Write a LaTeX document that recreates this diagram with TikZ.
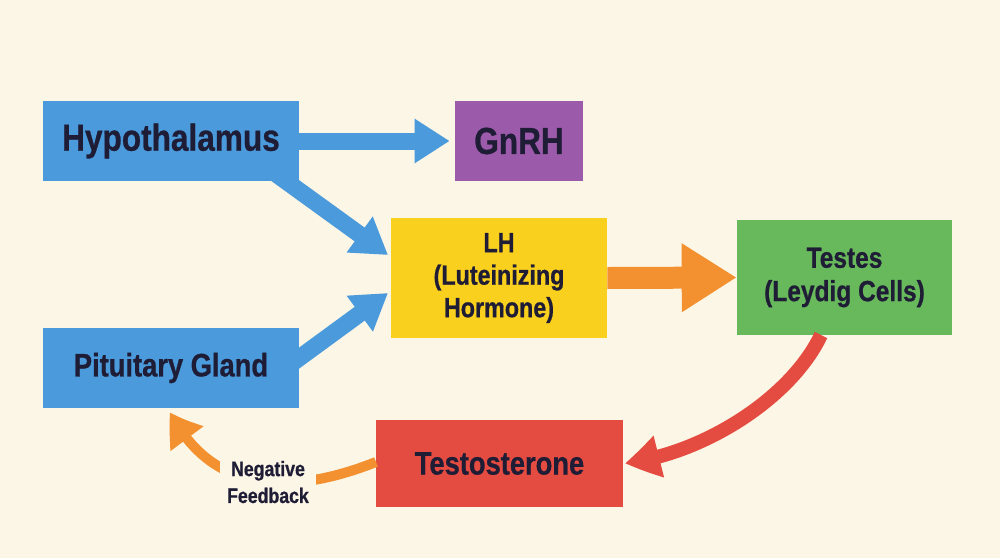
\documentclass[tikz,border=0pt]{standalone}
\usepackage{fontspec}
\setmainfont{Liberation Sans}[FakeStretch=0.84,BoldFeatures={FakeBold=0.7}]
\usetikzlibrary{arrows.meta,bending}
\definecolor{bg}{HTML}{FCF6E6}
\definecolor{cblue}{HTML}{4A9ADC}
\definecolor{cpurple}{HTML}{9C5BAA}
\definecolor{cyellow}{HTML}{FAD01E}
\definecolor{cgreen}{HTML}{68B85C}
\definecolor{cred}{HTML}{E44C41}
\definecolor{corange}{HTML}{F39130}
\definecolor{ink}{HTML}{1F1C36}
\begin{document}
\begin{tikzpicture}[x=0.02cm,y=-0.02cm,
  box/.style={draw=none,inner sep=0pt,align=center,text=ink},
  bigtext/.style={font=\bfseries\fontsize{21.4}{24}\selectfont},
  boxtext/.style={font=\bfseries\fontsize{18.5}{22}\selectfont},
  midtext/.style={font=\bfseries\fontsize{15.8}{18.5}\selectfont},
  testestext/.style={font=\bfseries\fontsize{16.6}{19}\selectfont},
  smalltext/.style={font=\bfseries\fontsize{12}{15.3}\selectfont},
  bluearrow/.style={draw=cblue,line width=0.34cm,-{Triangle[length=0.7cm,width=0.84cm]}},
  orangearrow/.style={draw=corange,line width=0.44cm,-{Triangle[length=1.1cm,width=1.3cm]}},
  redarrow/.style={draw=cred,line width=0.28cm,-{Triangle[bend,length=0.68cm,width=0.82cm]}},
  fbarrow/.style={draw=corange,line width=0.2cm,-{Triangle[bend,length=0.65cm,width=0.77cm]}}
]
\fill[bg] (0,0) rectangle (1000,558);
\useasboundingbox (0,0) rectangle (1000,558);

% boxes
\node[box,bigtext,fill=cblue,minimum width=5.12cm,minimum height=1.6cm] (hyp) at (171,141) {Hypothalamus};
\node[box,bigtext,fill=cpurple,minimum width=2.56cm,minimum height=1.6cm] (gnrh) at (519,141) {GnRH};
\node[box,boxtext,fill=cblue,minimum width=5.12cm,minimum height=1.6cm] (pit) at (171,368) {Pituitary Gland};
\node[box,midtext,fill=cyellow,minimum width=4.32cm,minimum height=2.4cm] (lh) at (499,278) {LH\\(Luteinizing\\Hormone)};
\node[box,testestext,fill=cgreen,minimum width=4.3cm,minimum height=2.3cm] (testes) at (844.5,277.5) {Testes\\(Leydig Cells)};
\node[box,boxtext,fill=cred,minimum width=4.94cm,minimum height=1.74cm] (testo) at (499.5,463.5) {Testosterone};

% connector coordinates
\coordinate (h1) at (272,171);
\coordinate (h2) at (388,255);
\coordinate (p1) at (276,375);
\coordinate (p2) at (388,293);
\coordinate (t1) at (821,335);
\coordinate (t2) at (625,463);
\coordinate (f1) at (376,462);
\coordinate (f2) at (170,412);

% arrows
\draw[bluearrow,shorten >=0.1cm] (hyp.east) -- (gnrh.west);
\draw[bluearrow] (h1) -- (h2);
\draw[bluearrow] (p1) -- (p2);
\draw[orangearrow] (lh.east) -- (testes.west);
\draw[redarrow] (t1) .. controls (790,400) and (700,455) .. (t2);
\draw[fbarrow] (f1) .. controls (300,492) and (215,500) .. (f2);

% boxes again over the arrow starts
\node[box,bigtext,fill=cblue,minimum width=5.12cm,minimum height=1.6cm] at (hyp) {Hypothalamus};
\node[box,boxtext,fill=cblue,minimum width=5.12cm,minimum height=1.6cm] at (pit) {Pituitary Gland};

\node[box,smalltext,fill=bg,inner xsep=0.14cm,inner ysep=0.06cm] (fb) at (268,482) {Negative\\Feedback};
\end{tikzpicture}
\end{document}
